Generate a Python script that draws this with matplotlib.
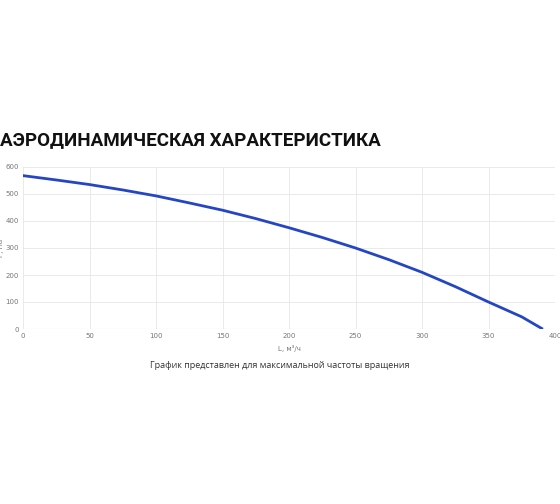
import matplotlib
matplotlib.use("Agg")
import matplotlib.pyplot as plt

flow = [0, 25, 50, 75, 100, 125, 150, 175, 200, 225, 250, 275, 300, 325, 350, 375, 390]
pressure = [568, 552, 535, 515, 493, 467, 440, 409, 375, 339, 300, 257, 210, 157, 100, 45, 2]

fig = plt.figure(figsize=(5.6, 5.04), dpi=100)
W, H = 560, 504
ax = fig.add_axes([23 / W, 1 - 329 / H, (555 - 23) / W, (329 - 167) / H])

ax.plot(flow, pressure, color="#2546c4", linewidth=2, zorder=3)
ax.set_xlim(0, 400)
ax.set_ylim(0, 600)
ax.set_xticks(range(0, 401, 50))
ax.set_yticks(range(0, 601, 100))
ax.grid(True, color="#e6e6e6", linewidth=0.6)
for s in ax.spines.values():
    s.set_visible(False)
ax.axhline(0, color="#cccccc", linewidth=0.8)
ax.tick_params(labelsize=5, colors="#777777", length=0, pad=3)
ax.set_xlabel("L, м³/ч", fontsize=5, color="#777777", labelpad=4)
ax.set_ylabel("P, Па", fontsize=5, color="#777777", labelpad=1)

fig.text(0.0, 1 - 140 / H, "АЭРОДИНАМИЧЕСКАЯ ХАРАКТЕРИСТИКА", fontsize=13.5,
         fontweight="bold", family="Roboto", color="#111111", va="center", ha="left")
fig.text(280 / W, 1 - 366 / H, "График представлен для максимальной частоты вращения",
         fontsize=6.5, family="Open Sans", color="#333333", ha="center", va="center")

fig.savefig("out.png", dpi=100, facecolor="white")
